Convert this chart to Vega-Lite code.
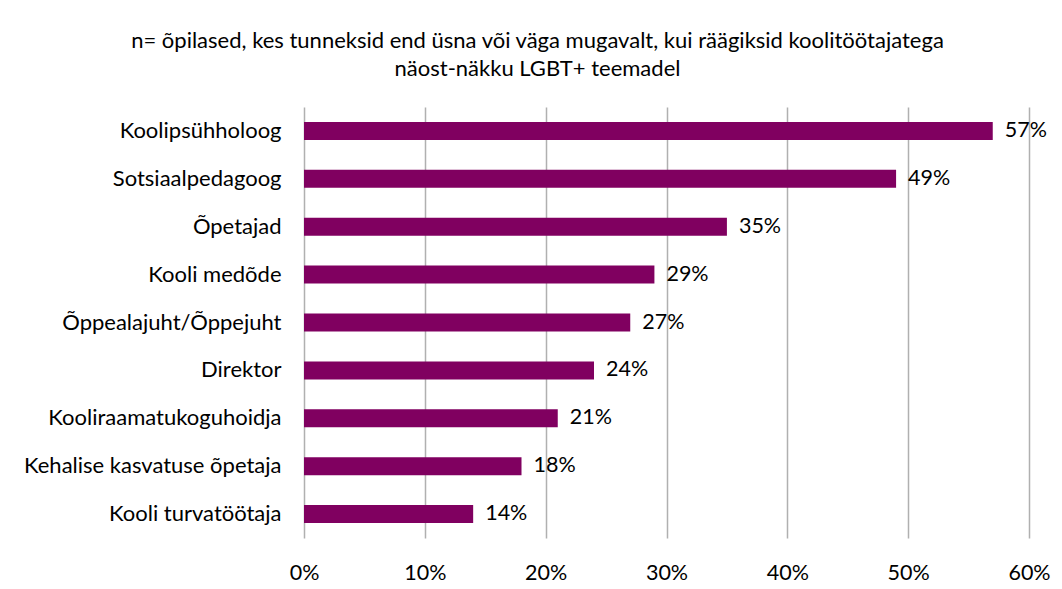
{
  "$schema": "https://vega.github.io/schema/vega-lite/v6.json",
  "width": 725,
  "height": 431,
  "autosize": "none",
  "padding": {"left": 304, "top": 107, "right": 33, "bottom": 51},
  "background": "white",
  "config": {"view": {"stroke": null}, "font": "Lato"},
  "title": {
    "text": ["n= õpilased, kes tunneksid end üsna või väga mugavalt, kui räägiksid koolitöötajatega", "näost-näkku LGBT+ teemadel"],
    "fontSize": 22,
    "fontWeight": "normal",
    "font": "Lato",
    "color": "#000000",
    "lineHeight": 28,
    "anchor": "middle",
    "dx": -129,
    "offset": 26
  },
  "data": {
    "values": [
      {"role": "Koolipsühholoog", "value": 0.57},
      {"role": "Sotsiaalpedagoog", "value": 0.49},
      {"role": "Õpetajad", "value": 0.35},
      {"role": "Kooli medõde", "value": 0.29},
      {"role": "Õppealajuht/Õppejuht", "value": 0.27},
      {"role": "Direktor", "value": 0.24},
      {"role": "Kooliraamatukoguhoidja", "value": 0.21},
      {"role": "Kehalise kasvatuse õpetaja", "value": 0.18},
      {"role": "Kooli turvatöötaja", "value": 0.14}
    ]
  },
  "encoding": {
    "y": {
      "field": "role",
      "type": "nominal",
      "sort": null,
      "title": null,
      "axis": {
        "ticks": false,
        "domain": false,
        "labelFontSize": 22,
        "labelColor": "#000000",
        "labelPadding": 23,
        "labelFont": "Lato",
        "labelLimit": 400
      }
    },
    "x": {
      "field": "value",
      "type": "quantitative",
      "scale": {"domain": [0, 0.6], "nice": false},
      "title": null,
      "axis": {
        "format": ".0%",
        "values": [0, 0.1, 0.2, 0.3, 0.4, 0.5, 0.6],
        "ticks": false,
        "domain": false,
        "grid": true,
        "gridColor": "#b0b0b0",
        "gridWidth": 1.5,
        "labelFlush": false,
        "labelFontSize": 21.5,
        "labelColor": "#000000",
        "labelPadding": 24,
        "labelFont": "Lato"
      }
    }
  },
  "layer": [
    {"mark": {"type": "bar", "color": "#800060", "size": 18}},
    {
      "mark": {"type": "text", "align": "left", "baseline": "middle", "dx": 12, "fontSize": 21.5, "color": "#000000", "font": "Lato"},
      "encoding": {"text": {"field": "value", "type": "quantitative", "format": ".0%"}}
    }
  ]
}
